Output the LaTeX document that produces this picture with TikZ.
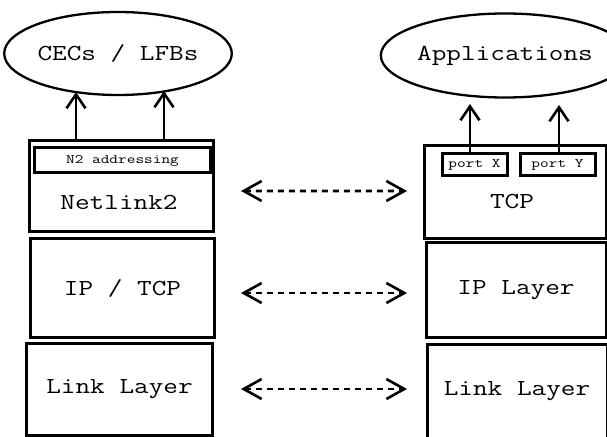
\documentclass[tikz,border=0pt]{standalone}
\usepackage{fontspec}
\usepackage{graphicx}
\usetikzlibrary{shapes.geometric,arrows.meta,calc}
\newcommand{\bigtt}[1]{\scalebox{1.24}[1]{\fontsize{23}{28}\selectfont\ttfamily #1}}
\newcommand{\smalltt}[1]{\scalebox{1.3}[1]{\fontsize{13}{16}\selectfont\ttfamily #1}}
\begin{document}
\begin{tikzpicture}[x=1bp,y=-1bp,
  box/.style={draw, rectangle, line width=3bp, inner sep=0pt, outer sep=0pt},
  ell/.style={draw, ellipse, line width=2.3bp, inner sep=0pt, outer sep=0pt},
  lbl/.style={inner sep=0pt, outer sep=0pt},
  uparr/.style={line width=2.6bp, -{Straight Barb[length=14bp,width=19bp]}},
  dasharr/.style={line width=2.6bp, dash pattern=on 6bp off 5bp,
     {Straight Barb[length=18bp,width=20bp]}-{Straight Barb[length=18bp,width=20bp]}}]
\useasboundingbox (0,0) rectangle (607,437);
% left column
\node[ell, minimum width=213bp, minimum height=83bp] (cec) at (118,53.5) {\bigtt{CECs / LFBs}};
\node[box, minimum width=183bp, minimum height=91bp] (net) at (121.5,186.5) {};
\node[box, minimum width=175bp, minimum height=25bp] (n2) at (122.5,160.5) {\smalltt{N2 addressing}};
\node[lbl] (netlbl) at (119,202) {\bigtt{Netlink2}};
\node[box, minimum width=183bp, minimum height=98bp] (iptcp) at (122.5,288) {\bigtt{IP / TCP}};
\node[box, minimum width=185bp, minimum height=92bp] (linkl) at (119.5,389) {\bigtt{Link Layer}};
% right column
\node[ell, minimum width=200bp, minimum height=84bp] (app) at (505,55.5) {\bigtt{Applications}};
\node[box, minimum width=182bp, minimum height=93bp] (tcp) at (515,192.5) {};
\node[box, minimum width=65bp, minimum height=22bp] (portx) at (474.5,165) {\smalltt{port X}};
\node[box, minimum width=75bp, minimum height=22bp] (porty) at (557.5,165) {\smalltt{port Y}};
\node[lbl] (tcplbl) at (512,202) {\bigtt{TCP}};
\node[box, minimum width=180bp, minimum height=94bp] (iplayer) at (516,290) {\bigtt{IP Layer}};
\node[box, minimum width=180bp, minimum height=94bp] (linkr) at (517,391) {\bigtt{Link Layer}};
% arrow tips
\coordinate (t1) at (76,92);
\coordinate (t2) at (164,91);
\coordinate (t3) at (470,104);
\coordinate (t4) at (559,105);
\draw[uparr] (net.north -| t1) -- (t1);
\draw[uparr] (net.north -| t2) -- (t2);
\draw[uparr] (portx.north -| t3) -- (t3);
\draw[uparr] (porty.north -| t4) -- (t4);
% dashed double arrows
\draw[dasharr] ($(net.east)+(28,4.5)$) -- ($(tcp.west)+(-17,-1.5)$);
\draw[dasharr] ($(iptcp.east)+(27,5)$) -- ($(iplayer.west)+(-19,3)$);
\draw[dasharr] ($(linkl.east)+(29,0)$) -- ($(linkr.west)+(-20,-2)$);
\end{tikzpicture}
\end{document}
